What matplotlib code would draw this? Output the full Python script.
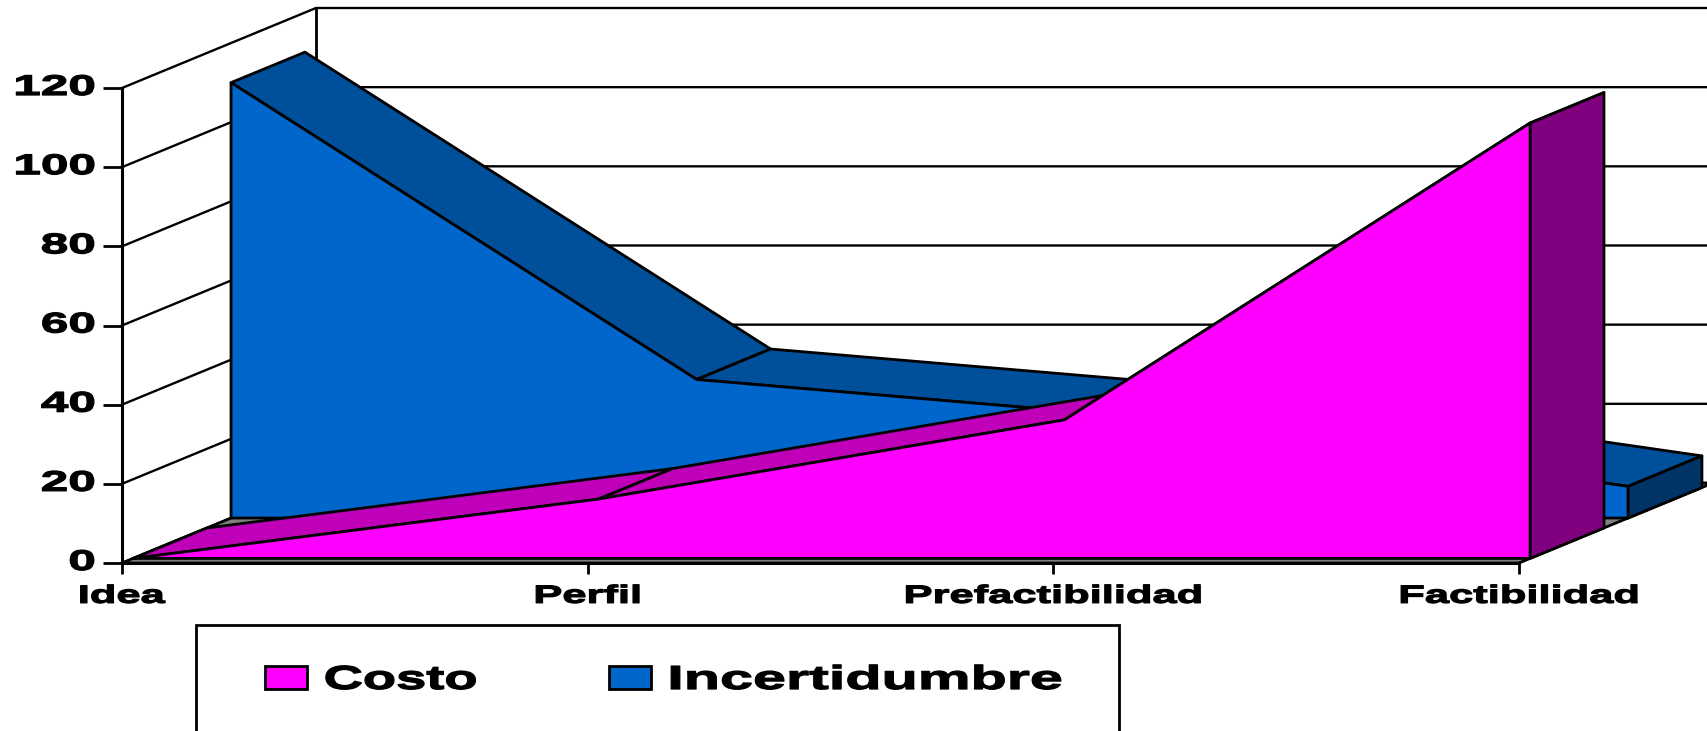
import matplotlib
matplotlib.use("Agg")
import matplotlib.pyplot as plt
import matplotlib.patheffects as pe
from matplotlib.patches import Polygon, Patch, Rectangle
from matplotlib.transforms import Affine2D

categorias = ["Idea", "Perfil", "Prefactibilidad", "Factibilidad"]
costo = [0, 15, 35, 110]
incertidumbre = [110, 35, 25, 8]
y_ticks = [0, 20, 40, 60, 80, 100, 120]

W, H = 1707, 731

# profundidad del grafico 3D, en unidades de datos
DX = 194 / 465.67
DY = 80 / 3.958


class Estirar(pe.AbstractPathEffect):
    # estira el texto a lo ancho y lo engorda, el original viene deformado
    def __init__(self, sx, anchor):
        super().__init__()
        self.sx = sx
        self.anchor = anchor

    def draw_path(self, renderer, gc, tpath, affine, rgbFace=None):
        ext = tpath.get_extents()
        cx = ext.x0 + self.anchor * ext.width
        t = Affine2D().translate(-cx, 0).scale(self.sx, 1).translate(cx, 0) + affine
        gc2 = renderer.new_gc()
        gc2.copy_properties(gc)
        gc2.set_foreground("black")
        gc2.set_linewidth(0.9)
        renderer.draw_path(gc2, tpath, t, rgbFace)
        gc2.restore()


def pr(i, v, d):
    return (i + d * DX, v + d * DY)


def cara(ax, pts, color, z):
    ax.add_patch(Polygon(pts, closed=True, facecolor=color, edgecolor="black",
                         linewidth=2.0, clip_on=False, zorder=z, joinstyle="round"))


def serie(ax, valores, d0, d1, c_front, c_top, c_end, z):
    n = len(valores)
    for i in range(n - 1):
        cara(ax, [pr(i, valores[i], d0), pr(i + 1, valores[i + 1], d0),
                  pr(i + 1, valores[i + 1], d1), pr(i, valores[i], d1)], c_top, z)
    cara(ax, [pr(n - 1, valores[-1], d0), pr(n - 1, valores[-1], d1),
              pr(n - 1, 0, d1), pr(n - 1, 0, d0)], c_end, z + 0.1)
    frente = [pr(i, valores[i], d0) for i in range(n)]
    frente += [pr(n - 1, 0, d0), pr(0, 0, d0)]
    cara(ax, frente, c_front, z + 0.2)


plt.rcParams["font.family"] = ["Liberation Sans", "DejaVu Sans"]
plt.rcParams["font.weight"] = "bold"

fig = plt.figure(figsize=(W / 100, H / 100), dpi=100)
ax = fig.add_axes([122 / W, (H - 563) / H, 1397 / W, 475 / H])
ax.set_xlim(0, 3)
ax.set_ylim(0, 120)
ax.patch.set_visible(False)

for s in ["top", "right"]:
    ax.spines[s].set_visible(False)
ax.spines["left"].set_linewidth(2.2)
ax.spines["bottom"].set_linewidth(2.2)

# paredes y rejilla
for v in y_ticks:
    x0, y0 = pr(0, v, 0)
    x1, y1 = pr(0, v, 1)
    x2, y2 = pr(3, v, 1)
    ax.plot([x0, x1, x2], [y0, y1, y2], color="black", lw=1.7, clip_on=False, zorder=1)
x0, y0 = pr(0, 0, 1)
x1, y1 = pr(0, 120, 1)
ax.plot([x0, x1], [y0, y1], color="black", lw=2.0, clip_on=False, zorder=1)

# piso
cara(ax, [pr(0, 0, 0), pr(3, 0, 0), pr(3, 0, 1), pr(0, 0, 1)], "#808080", 1.2)

serie(ax, incertidumbre, 0.562, 0.943, "#0066cc", "#004f9a", "#003366", 1.4)
serie(ax, costo, 0.057, 0.438, "#ff00ff", "#bf00b8", "#800080", 1.8)

ax.set_xticks(range(len(categorias)))
ax.set_xticklabels(categorias, fontsize=18)
ax.set_yticks(y_ticks)
ax.set_yticklabels([str(v) for v in y_ticks], fontsize=20.5, va="center")
ax.tick_params(axis="x", length=8, width=2, pad=7)
ax.tick_params(axis="y", length=13.5, width=2, pad=6)
for t in ax.get_xticklabels():
    t.set_path_effects([Estirar(1.74, 0.5)])
for t in ax.get_yticklabels():
    t.set_path_effects([Estirar(1.74, 1)])

# leyenda, el marco se sale por abajo como en el original
fig.add_artist(Rectangle((196 / W, -30 / H), 923 / W, (H - 625 + 30) / H,
                         transform=fig.transFigure, facecolor="white",
                         edgecolor="black", linewidth=2.0))
handles = [Patch(facecolor="#ff00ff", edgecolor="black", linewidth=2.0),
           Patch(facecolor="#0066cc", edgecolor="black", linewidth=2.0)]
ley = fig.legend(handles, ["Costo", "Incertidumbre"], ncol=2, frameon=False,
                 loc="upper left", bbox_to_anchor=(264.5 / W, (H - 665) / H),
                 fontsize=24, borderpad=0, borderaxespad=0, handlelength=1.26,
                 handleheight=0.66, handletextpad=0.54, columnspacing=5.7)
for t, sx in zip(ley.get_texts(), [1.63, 1.78]):
    t.set_path_effects([Estirar(sx, 0)])

fig.savefig("out.png", dpi=100)
